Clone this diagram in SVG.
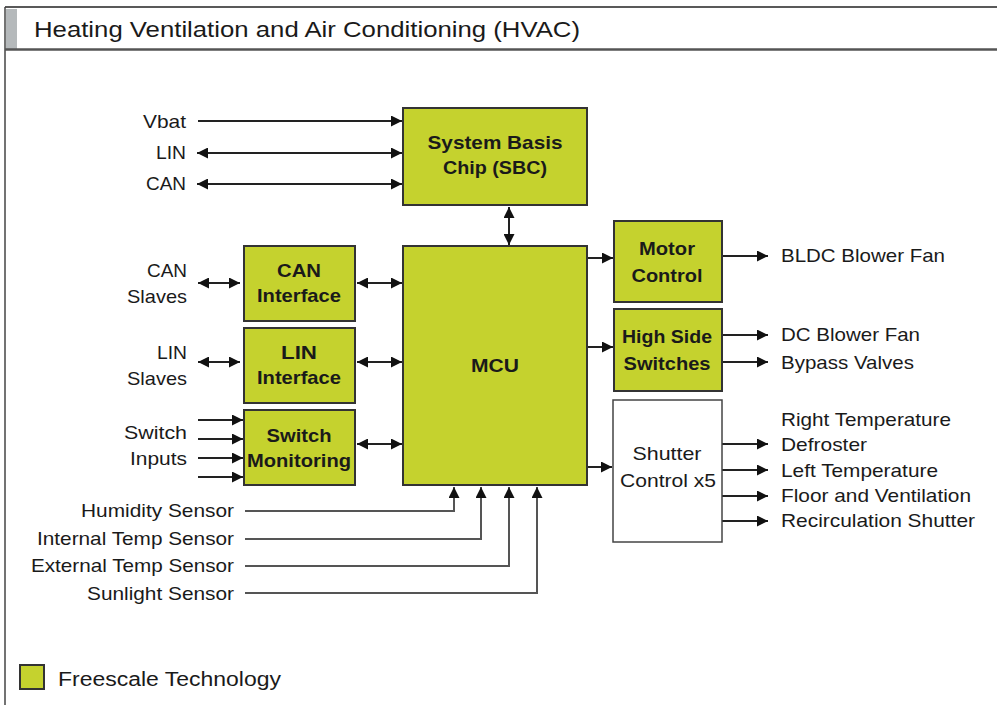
<svg xmlns="http://www.w3.org/2000/svg" width="997" height="705" viewBox="0 0 997 705">
<style>
.t{font-family:"Liberation Sans",Arial,sans-serif;font-size:18.5px;fill:#1a1a1a}
.r{text-anchor:end}
.b{font-family:"Liberation Sans",Arial,sans-serif;font-size:18.5px;font-weight:bold;fill:#1a1a1a;text-anchor:middle}
.n{fill:#c5d22e;stroke:#333;stroke-width:2}
.w{fill:#fff;stroke:#444;stroke-width:1.5}
.c{fill:none;stroke:#222;stroke-width:2}
.s{fill:none;stroke:#555;stroke-width:2}
</style>
<defs>
<marker id="ah" viewBox="0 0 10 10" refX="10" refY="5" markerWidth="11" markerHeight="11" markerUnits="userSpaceOnUse" orient="auto-start-reverse"><path d="M0,0 L10,5 L0,10 Z" fill="#111"/></marker>
</defs>
<rect width="997" height="705" fill="#fff"/>
<g id="frame">
<line x1="5" y1="7" x2="997" y2="7" stroke="#222" stroke-width="1.5"/>
<line x1="5" y1="7" x2="5" y2="705" stroke="#444" stroke-width="1.5"/>
<rect x="6" y="9" width="11" height="40" fill="#b5b9bb"/>
<line x1="5" y1="49.5" x2="997" y2="49.5" stroke="#555" stroke-width="2.5"/>
<text x="34" y="37" font-family="'Liberation Sans',Arial,sans-serif" font-size="22" fill="#1a1a1a" textLength="546" lengthAdjust="spacingAndGlyphs">Heating Ventilation and Air Conditioning (HVAC)</text>
</g>
<g id="connectors">
<line class="c" x1="198" y1="121" x2="402" y2="121" marker-end="url(#ah)"/>
<line class="c" x1="197" y1="153" x2="402" y2="153" marker-start="url(#ah)" marker-end="url(#ah)"/>
<line class="c" x1="197" y1="184" x2="402" y2="184" marker-start="url(#ah)" marker-end="url(#ah)"/>
<line class="c" x1="509" y1="207" x2="509" y2="245" marker-start="url(#ah)" marker-end="url(#ah)"/>
<line class="c" x1="198" y1="283" x2="240" y2="283" marker-start="url(#ah)" marker-end="url(#ah)"/>
<line class="c" x1="357" y1="283" x2="402" y2="283" marker-start="url(#ah)" marker-end="url(#ah)"/>
<line class="c" x1="198" y1="362" x2="240" y2="362" marker-start="url(#ah)" marker-end="url(#ah)"/>
<line class="c" x1="357" y1="362" x2="402" y2="362" marker-start="url(#ah)" marker-end="url(#ah)"/>
<line class="c" x1="198" y1="420" x2="243" y2="420" marker-end="url(#ah)"/>
<line class="c" x1="198" y1="439" x2="243" y2="439" marker-end="url(#ah)"/>
<line class="c" x1="198" y1="458" x2="243" y2="458" marker-end="url(#ah)"/>
<line class="c" x1="198" y1="477" x2="243" y2="477" marker-end="url(#ah)"/>
<line class="c" x1="357" y1="444" x2="402" y2="444" marker-start="url(#ah)" marker-end="url(#ah)"/>
<line class="c" x1="588" y1="258" x2="613" y2="258" marker-end="url(#ah)"/>
<line class="c" x1="588" y1="347" x2="613" y2="347" marker-end="url(#ah)"/>
<line class="c" x1="588" y1="467" x2="612" y2="467" marker-end="url(#ah)"/>
<line class="c" x1="723" y1="256" x2="768" y2="256" marker-end="url(#ah)"/>
<line class="c" x1="723" y1="335" x2="768" y2="335" marker-end="url(#ah)"/>
<line class="c" x1="723" y1="362" x2="768" y2="362" marker-end="url(#ah)"/>
<line class="c" x1="722" y1="444" x2="768" y2="444" marker-end="url(#ah)"/>
<line class="c" x1="722" y1="470" x2="768" y2="470" marker-end="url(#ah)"/>
<line class="c" x1="722" y1="496" x2="768" y2="496" marker-end="url(#ah)"/>
<line class="c" x1="722" y1="521" x2="768" y2="521" marker-end="url(#ah)"/>
<polyline class="s" points="245,511 454,511 454,487" marker-end="url(#ah)"/>
<polyline class="s" points="245,539 481,539 481,487" marker-end="url(#ah)"/>
<polyline class="s" points="245,566 509,566 509,487" marker-end="url(#ah)"/>
<polyline class="s" points="245,593 537,593 537,487" marker-end="url(#ah)"/>
</g>
<g id="sbc"><rect class="n" x="403" y="108" width="184" height="97"/><text class="b" x="495" y="149" textLength="135" lengthAdjust="spacingAndGlyphs">System Basis</text><text class="b" x="495" y="174" textLength="104" lengthAdjust="spacingAndGlyphs">Chip (SBC)</text></g>
<g id="mcu"><rect class="n" x="403" y="246" width="184" height="239"/><text class="b" x="495" y="372" textLength="48" lengthAdjust="spacingAndGlyphs">MCU</text></g>
<g id="can-if"><rect class="n" x="244" y="246" width="111" height="75"/><text class="b" x="299" y="277" textLength="44" lengthAdjust="spacingAndGlyphs">CAN</text><text class="b" x="299" y="302" textLength="84" lengthAdjust="spacingAndGlyphs">Interface</text></g>
<g id="lin-if"><rect class="n" x="244" y="328" width="111" height="75"/><text class="b" x="299" y="359" textLength="36" lengthAdjust="spacingAndGlyphs">LIN</text><text class="b" x="299" y="384" textLength="84" lengthAdjust="spacingAndGlyphs">Interface</text></g>
<g id="switch-mon"><rect class="n" x="244" y="410" width="111" height="75"/><text class="b" x="299" y="442" textLength="65" lengthAdjust="spacingAndGlyphs">Switch</text><text class="b" x="299" y="467" textLength="104" lengthAdjust="spacingAndGlyphs">Monitoring</text></g>
<g id="motor"><rect class="n" x="614" y="221" width="108" height="81"/><text class="b" x="667" y="255" textLength="56" lengthAdjust="spacingAndGlyphs">Motor</text><text class="b" x="667" y="282" textLength="71" lengthAdjust="spacingAndGlyphs">Control</text></g>
<g id="hss"><rect class="n" x="614" y="309" width="108" height="82"/><text class="b" x="667" y="343" textLength="90" lengthAdjust="spacingAndGlyphs">High Side</text><text class="b" x="667" y="370" textLength="87" lengthAdjust="spacingAndGlyphs">Switches</text></g>
<g id="shutter"><rect class="w" x="613" y="400" width="109" height="142"/><text class="t" x="667" y="460" text-anchor="middle" textLength="69" lengthAdjust="spacingAndGlyphs">Shutter</text><text class="t" x="668" y="487" text-anchor="middle" textLength="96" lengthAdjust="spacingAndGlyphs">Control x5</text></g>
<g id="labels">
<text class="t r" x="186" y="128" textLength="43" lengthAdjust="spacingAndGlyphs">Vbat</text>
<text class="t r" x="186" y="159" textLength="30" lengthAdjust="spacingAndGlyphs">LIN</text>
<text class="t r" x="186" y="190" textLength="40" lengthAdjust="spacingAndGlyphs">CAN</text>
<text class="t r" x="187" y="277" textLength="40" lengthAdjust="spacingAndGlyphs">CAN</text>
<text class="t r" x="187" y="303" textLength="60" lengthAdjust="spacingAndGlyphs">Slaves</text>
<text class="t r" x="187" y="359" textLength="30" lengthAdjust="spacingAndGlyphs">LIN</text>
<text class="t r" x="187" y="385" textLength="60" lengthAdjust="spacingAndGlyphs">Slaves</text>
<text class="t r" x="187" y="439" textLength="63" lengthAdjust="spacingAndGlyphs">Switch</text>
<text class="t r" x="187" y="465" textLength="57" lengthAdjust="spacingAndGlyphs">Inputs</text>
<text class="t r" x="234" y="517" textLength="153" lengthAdjust="spacingAndGlyphs">Humidity Sensor</text>
<text class="t r" x="234" y="545" textLength="197" lengthAdjust="spacingAndGlyphs">Internal Temp Sensor</text>
<text class="t r" x="234" y="572" textLength="203" lengthAdjust="spacingAndGlyphs">External Temp Sensor</text>
<text class="t r" x="234" y="600" textLength="147" lengthAdjust="spacingAndGlyphs">Sunlight Sensor</text>
<text class="t" x="781" y="262" textLength="164" lengthAdjust="spacingAndGlyphs">BLDC Blower Fan</text>
<text class="t" x="781" y="341" textLength="139" lengthAdjust="spacingAndGlyphs">DC Blower Fan</text>
<text class="t" x="781" y="369" textLength="133" lengthAdjust="spacingAndGlyphs">Bypass Valves</text>
<text class="t" x="781" y="426" textLength="170" lengthAdjust="spacingAndGlyphs">Right Temperature</text>
<text class="t" x="781" y="451" textLength="86" lengthAdjust="spacingAndGlyphs">Defroster</text>
<text class="t" x="781" y="477" textLength="157" lengthAdjust="spacingAndGlyphs">Left Temperature</text>
<text class="t" x="781" y="502" textLength="190" lengthAdjust="spacingAndGlyphs">Floor and Ventilation</text>
<text class="t" x="781" y="527" textLength="194" lengthAdjust="spacingAndGlyphs">Recirculation Shutter</text>
</g>
<g id="legend"><rect x="20" y="665" width="24" height="24" fill="#c5d22e" stroke="#333" stroke-width="2"/><text x="58" y="686" font-family="'Liberation Sans',Arial,sans-serif" font-size="20" fill="#1a1a1a" textLength="223" lengthAdjust="spacingAndGlyphs">Freescale Technology</text></g>
</svg>
